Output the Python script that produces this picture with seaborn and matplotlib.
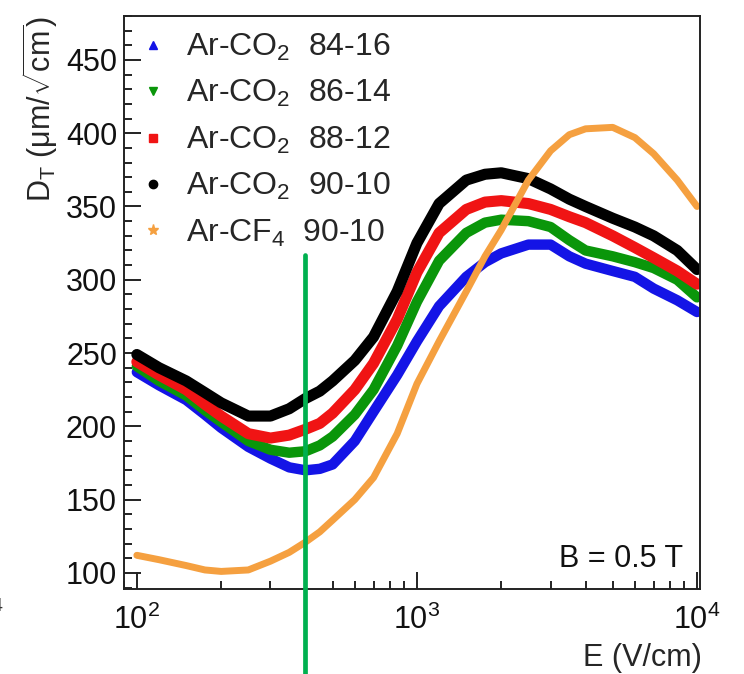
import matplotlib
matplotlib.use('agg')
import matplotlib.pyplot as plt
from matplotlib.lines import Line2D
from matplotlib.ticker import MultipleLocator, LogLocator, NullFormatter
import pandas as pd
import seaborn as sns

# transverse diffusion vs drift field, B = 0.5 T
field = [100, 120, 150, 175, 200, 250, 300, 350, 400, 450, 500, 600, 700, 850,
         1000, 1200, 1500, 1750, 2000, 2500, 3000, 3500, 4000, 5000, 6000, 7000, 8500, 10000]
dt_co2_84_16 = [237, 228, 218, 208, 199, 186, 178, 172, 170, 171, 174, 190, 210, 235,
                258, 282, 302, 312, 318, 324, 324, 316, 311, 306, 302, 294, 286, 278]
dt_co2_86_14 = [241, 231, 221, 211, 203, 190, 184, 182, 183, 187, 193, 208, 225, 255,
                285, 313, 332, 339, 341, 340, 336, 327, 320, 316, 312, 308, 300, 288]
dt_co2_88_12 = [244, 235, 225, 215, 207, 195, 192, 194, 198, 202, 209, 225, 243, 273,
                305, 332, 348, 353, 354, 352, 348, 343, 339, 330, 322, 315, 306, 297]
dt_co2_90_10 = [249, 240, 231, 223, 216, 207, 207, 212, 219, 224, 231, 245, 261, 292,
                325, 352, 368, 372, 373, 369, 362, 355, 350, 342, 336, 330, 320, 307]
dt_cf4_90_10 = [112, 109, 105, 102, 101, 102, 108, 114, 121, 128, 136, 150, 165, 195,
                229, 258, 292, 316, 334, 368, 388, 399, 403, 404, 397, 386, 368, 350]

labels = ['Ar-CO$_2$  84-16', 'Ar-CO$_2$  86-14', 'Ar-CO$_2$  88-12',
          'Ar-CO$_2$  90-10', 'Ar-CF$_4$  90-10']
colors = ['#1414e6', '#0a960a', '#f01414', '#000000', '#f5a040']
markers = ['^', 'v', 's', 'o', '*']

# green marker line drawn over the plot
marker_field = 400
marker_top = 317

series = [dt_co2_84_16, dt_co2_86_14, dt_co2_88_12, dt_co2_90_10, dt_cf4_90_10]
df = pd.concat([pd.DataFrame({'E': field, 'DT': vals, 'gas': lab})
                for vals, lab in zip(series, labels)], ignore_index=True)

sns.set_style('ticks')
plt.rcParams['font.family'] = ['Liberation Sans', 'DejaVu Sans']
plt.rcParams['mathtext.fontset'] = 'custom'
plt.rcParams['mathtext.rm'] = 'Liberation Sans'
plt.rcParams['mathtext.it'] = 'Liberation Sans:italic'
plt.rcParams['mathtext.bf'] = 'Liberation Sans:bold'

fig = plt.figure(figsize=(7.44, 6.74), dpi=100)
ax = fig.add_axes([0.1667, 0.1261, 0.7742, 0.8502])

widths = [7.5, 7.5, 8, 8, 5]
for lab, col, lw in zip(labels, colors, widths):
    sns.lineplot(data=df[df['gas'] == lab], x='E', y='DT', color=col, lw=lw,
                 solid_capstyle='round', solid_joinstyle='round', legend=False, ax=ax)

ax.set_xscale('log')
ax.set_xlim(90, 10250)
ax.set_ylim(89, 480)

ax.yaxis.set_minor_locator(MultipleLocator(10))
ax.set_yticks([100, 150, 200, 250, 300, 350, 400, 450])
ax.xaxis.set_major_locator(LogLocator(base=10))
ax.xaxis.set_minor_locator(LogLocator(base=10, subs=range(2, 10)))
ax.xaxis.set_minor_formatter(NullFormatter())

ax.tick_params(which='both', direction='in', top=False, right=False, colors='#222222',
               labelcolor='#111111', width=1.4, labelsize=22)
ax.tick_params(which='major', length=12)
ax.tick_params(which='minor', length=6)
ax.tick_params(axis='x', which='major', pad=11)
ax.tick_params(axis='y', which='major', pad=5)
for sp in ax.spines.values():
    sp.set_linewidth(1.4)
    sp.set_color('#222222')

ax.set_xlabel('E (V/cm)', fontsize=22, loc='right')
ax.xaxis.set_label_coords(1.003, -0.095)
ax.set_ylabel('D$_\\mathregular{T}$ (μm/$\\sqrt{\\mathregular{cm}}$)', fontsize=22, loc='top')
ax.yaxis.set_label_coords(-0.112, 1.0)

ax.text(0.97, 0.026, 'B = 0.5 T', transform=ax.transAxes, fontsize=22,
        ha='right', va='bottom', color='#111111')

frac = (marker_top - ax.get_ylim()[0]) / (ax.get_ylim()[1] - ax.get_ylim()[0])
ax.axvline(marker_field, ymin=-0.2, ymax=frac, color='#00b04f', lw=3.4, clip_on=False, zorder=10)

handles = [Line2D([], [], ls='none', marker=m, color=c, markersize=s)
           for m, c, s in zip(markers, colors, [6, 6, 6, 6, 8])]
ax.legend(handles, labels, loc='upper left', bbox_to_anchor=(-0.006, 1.0), frameon=False,
          fontsize=23, handlelength=1.0, handletextpad=0.55, labelspacing=0.48,
          borderaxespad=0.4, borderpad=0.1)

# edge of the neighbouring panel's tick label
fig.text(-0.004, 0.1, '4', fontsize=14, ha='center', va='center', color='#333333')

fig.savefig('out.png', dpi=100)
